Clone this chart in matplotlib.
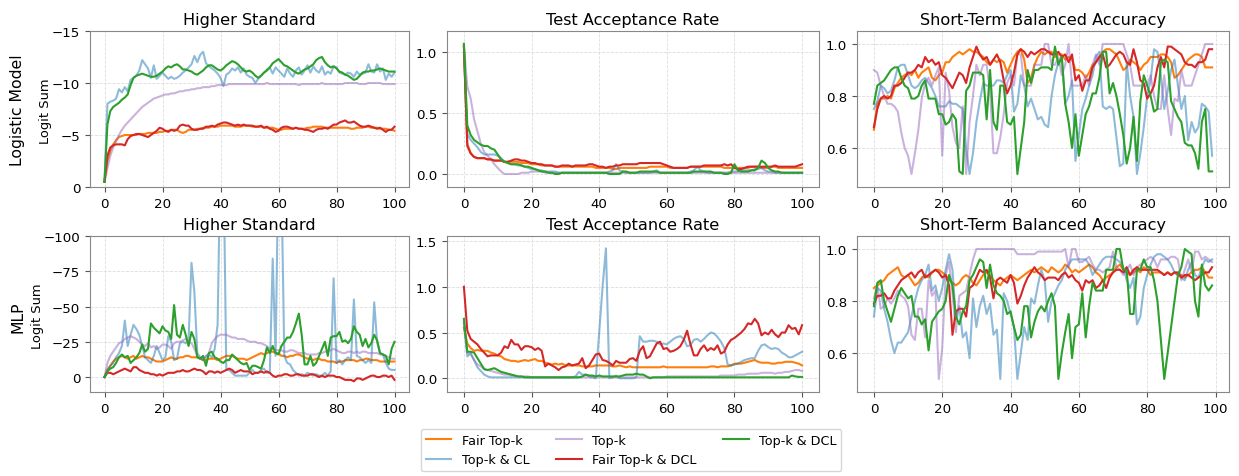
import matplotlib
matplotlib.use("Agg")
import matplotlib.pyplot as plt
import numpy as np

labels = ["Fair Top-k", "Top-k & CL", "Top-k", "Fair Top-k & DCL", "Top-k & DCL"]
colors = ["#ff7f0e", "#1f77b4", "#9467bd", "#d62728", "#2ca02c"]
alphas = [1.0, 0.5, 0.5, 1.0, 1.0]
titles = ["Higher Standard", "Test Acceptance Rate", "Short-Term Balanced Accuracy"]
row_labels = ["Logistic Model", "MLP"]

# ---------------- Logistic model: Higher Standard (logit sum) ----------------
lr_hs_fair = [-0.5,-2.5,-3.5,-4.1,-4.5,-4.8,-4.9,-5.0,-5.0,-5.0, -5.0,-5.0,-5.1,-5.1,-5.1,-5.2,-5.2,-5.2,-5.2,-5.3,
              -5.3,-5.4,-5.4,-5.5,-5.5,-5.5,-5.3,-5.2,-5.3,-5.5, -5.5,-5.5,-5.6,-5.6,-5.7,-5.7,-5.7,-5.8,-5.8,-5.8,
              -5.9,-5.9,-5.9,-5.9,-5.9,-5.8,-5.8,-5.8,-5.9,-5.9, -5.9,-5.8,-5.8,-5.8,-5.8,-5.7,-5.7,-5.7,-5.7,-5.6,
              -5.5,-5.5,-5.6,-5.6,-5.6,-5.6,-5.7,-5.6,-5.6,-5.6, -5.7,-5.7,-5.8,-5.8,-5.8,-5.8,-5.7,-5.7,-5.7,-5.7,
              -5.7,-5.7,-5.7,-5.7,-5.7,-5.6,-5.6,-5.7,-5.7,-5.7, -5.8,-5.8,-5.7,-5.7,-5.7,-5.6,-5.6,-5.6,-5.5,-5.5, -5.4]
lr_hs_cl = [-0.5,-8.0,-8.2,-8.3,-8.5,-9.4,-9.1,-9.6,-9.2,-10.3, -10.5,-10.7,-11.2,-12.2,-11.8,-11.4,-10.5,-11.7,-10.4,-10.7,
            -11.0,-10.7,-10.4,-10.6,-10.4,-10.5,-10.7,-11.0,-11.2,-11.5, -11.8,-12.6,-12.0,-12.7,-13.0,-11.9,-11.6,-11.4,-11.2,-10.9,
            -10.5,-9.7,-10.8,-11.0,-11.4,-11.2,-11.5,-11.0,-11.4,-10.8, -10.6,-10.5,-10.0,-10.4,-10.7,-11.0,-11.3,-11.5,-10.9,-11.5,
            -11.2,-10.9,-10.6,-11.4,-10.9,-10.6,-11.2,-11.5,-10.8,-11.2, -11.7,-11.0,-11.6,-11.2,-11.0,-11.6,-10.8,-11.1,-10.9,-11.6,
            -11.5,-11.0,-10.9,-10.8,-11.0,-10.9,-10.6,-11.1,-10.8,-10.9, -11.0,-11.8,-11.1,-11.0,-11.8,-11.1,-11.4,-10.3,-10.9,-10.6, -11.0]
lr_hs_topk = [-0.5,-1.8,-3.0,-3.8,-4.4,-5.0,-5.5,-5.9,-6.2,-6.5, -6.8,-7.1,-7.4,-7.7,-7.9,-8.1,-8.3,-8.5,-8.6,-8.7,
              -8.8,-8.9,-8.9,-9.0,-9.0,-9.1,-9.2,-9.2,-9.3,-9.3, -9.4,-9.4,-9.5,-9.5,-9.6,-9.6,-9.6,-9.7,-9.7,-9.8,
              -9.8,-9.8,-9.8,-9.9,-9.9,-9.9,-9.9,-9.9,-9.9,-9.9, -9.9,-9.9,-9.9,-9.9,-9.9,-9.9,-10.0,-9.9,-9.9,-9.9,
              -9.9,-9.9,-9.9,-9.9,-9.9,-9.9,-9.9,-9.8,-9.9,-9.9, -9.9,-9.9,-9.9,-9.9,-9.9,-10.0,-9.9,-9.9,-9.9,-9.9,
              -9.9,-9.9,-9.9,-10.0,-10.0,-10.0,-10.0,-10.0,-9.9,-9.9, -9.9,-10.0,-10.0,-10.0,-10.0,-10.0,-9.9,-9.9,-9.9,-9.9, -9.9]
lr_hs_fairdcl = [-0.5,-3.0,-3.8,-4.0,-4.1,-4.1,-4.1,-4.0,-4.6,-4.9, -5.0,-5.1,-5.1,-5.0,-4.9,-4.8,-5.0,-5.2,-5.4,-5.7,
                 -5.6,-5.4,-5.3,-5.5,-5.4,-5.5,-5.9,-6.0,-5.9,-5.9, -5.6,-5.5,-5.5,-5.6,-5.6,-5.8,-5.8,-5.9,-5.8,-6.0,
                 -6.1,-6.2,-6.2,-6.1,-6.0,-5.9,-6.0,-5.9,-6.0,-5.9, -5.9,-5.9,-5.8,-5.8,-5.9,-5.7,-5.8,-5.6,-5.5,-5.3,
                 -5.4,-5.7,-5.8,-5.8,-5.7,-5.6,-5.7,-5.6,-5.6,-5.5, -5.5,-5.4,-5.3,-5.5,-5.6,-5.6,-5.7,-5.6,-5.8,-6.0,
                 -6.0,-6.2,-6.3,-6.4,-6.2,-6.2,-6.3,-6.1,-5.9,-5.8, -5.8,-5.9,-5.8,-5.7,-5.6,-5.7,-5.5,-5.3,-5.5,-5.5, -5.8]
lr_hs_dcl = [-0.5,-6.0,-7.3,-7.7,-7.9,-8.1,-8.4,-8.6,-8.9,-9.8, -10.5,-10.7,-10.8,-10.9,-10.8,-10.7,-10.6,-10.6,-10.7,-10.9,
             -11.1,-11.4,-11.6,-11.5,-11.7,-11.8,-11.6,-11.3,-11.3,-11.2, -11.1,-10.9,-10.8,-11.0,-11.2,-11.5,-11.7,-11.7,-11.5,-11.3,
             -11.2,-11.4,-11.7,-11.9,-12.1,-12.0,-11.8,-11.5,-11.2,-11.1, -11.2,-11.0,-10.7,-10.5,-10.7,-11.0,-11.2,-11.5,-11.9,-12.1,
             -12.3,-12.0,-11.7,-11.6,-11.4,-11.2,-11.0,-10.9,-11.1,-11.3, -11.4,-11.6,-11.8,-12.2,-12.4,-12.5,-12.0,-11.7,-11.5,-11.6,
             -11.4,-11.1,-11.0,-10.8,-10.7,-10.5,-10.3,-10.4,-10.7,-11.0, -11.1,-11.1,-11.2,-11.2,-11.3,-11.4,-11.3,-11.2,-11.1,-11.1, -11.1]

# ---------------- Logistic model: Test Acceptance Rate ----------------
lr_ar_fair = [1.05,0.25,0.17,0.14,0.13,0.13,0.13,0.12,0.12,0.11, 0.11,0.11,0.10,0.10,0.10,0.10,0.10,0.09,0.09,0.09,
              0.08,0.08,0.08,0.07,0.07,0.07,0.07,0.06,0.06,0.06, 0.06,0.06,0.06,0.06,0.06,0.06,0.06,0.06,0.06,0.05,
              0.05,0.05,0.05,0.05,0.04,0.04,0.05,0.05,0.05,0.05, 0.05,0.05,0.05,0.05,0.05,0.06,0.06,0.06,0.06,0.06,
              0.06,0.05,0.05,0.05,0.05,0.05,0.05,0.06,0.06,0.06, 0.06,0.06,0.06,0.06,0.06,0.06,0.06,0.05,0.05,0.05,
              0.05,0.05,0.05,0.05,0.05,0.06,0.06,0.06,0.05,0.05, 0.05,0.06,0.06,0.05,0.05,0.05,0.05,0.05,0.05,0.05, 0.05]
lr_ar_cl = [1.00,0.33,0.28,0.25,0.22,0.18,0.16,0.16,0.16,0.16, 0.15,0.13,0.10,0.09,0.08,0.08,0.07,0.07,0.06,0.05,
            0.04,0.04,0.03,0.03,0.02,0.02,0.02,0.02,0.01,0.01, 0.01,0.01,0.01,0.01,0.01,0.01,0.01,0.01,0.01,0.01,
            0.01,0.01,0.01,0.02,0.03,0.08,0.03,0.02,0.01,0.01, 0.01,0.01,0.01,0.01,0.01,0.01,0.02,0.03,0.01,0.01,
            0.01,0.01,0.01,0.01,0.01,0.01,0.01,0.02,0.03,0.06, 0.03,0.02,0.01,0.01,0.01,0.01,0.01,0.01,0.01,0.02,
            0.02,0.02,0.03,0.03,0.03,0.03,0.04,0.04,0.05,0.03, 0.02,0.02,0.01,0.01,0.01,0.01,0.01,0.01,0.01,0.01, 0.01]
lr_ar_topk = [1.05,0.72,0.62,0.45,0.35,0.25,0.18,0.15,0.12,0.08, 0.05,0.02,0.00,0.00,0.00,0.00,0.00,0.01,0.01,0.01,
              0.02,0.02,0.02,0.02,0.01,0.01,0.01,0.01,0.01,0.01, 0.01,0.01,0.01,0.01,0.01,0.01,0.01,0.01,0.01,0.01,
              0.01,0.01,0.01,0.01,0.01,0.01,0.01,0.01,0.01,0.01, 0.01,0.01,0.01,0.01,0.01,0.01,0.01,0.01,0.01,0.01,
              0.01,0.01,0.01,0.01,0.01,0.01,0.01,0.01,0.01,0.01, 0.01,0.01,0.01,0.01,0.01,0.01,0.01,0.01,0.01,0.01,
              0.01,0.01,0.01,0.01,0.01,0.01,0.01,0.01,0.01,0.01, 0.01,0.01,0.01,0.01,0.01,0.01,0.01,0.01,0.01,0.01, 0.01]
lr_ar_fairdcl = [1.05,0.23,0.17,0.14,0.13,0.13,0.13,0.12,0.12,0.11, 0.11,0.11,0.10,0.10,0.11,0.12,0.12,0.11,0.11,0.10,
                 0.09,0.09,0.08,0.08,0.07,0.07,0.07,0.06,0.06,0.07, 0.07,0.07,0.06,0.07,0.07,0.07,0.07,0.08,0.08,0.07,
                 0.06,0.06,0.05,0.06,0.06,0.07,0.07,0.08,0.08,0.08, 0.08,0.08,0.09,0.09,0.09,0.09,0.09,0.09,0.09,0.08,
                 0.07,0.06,0.05,0.05,0.05,0.05,0.05,0.06,0.06,0.06, 0.06,0.07,0.07,0.07,0.07,0.07,0.07,0.08,0.07,0.08,
                 0.05,0.04,0.04,0.05,0.06,0.06,0.06,0.06,0.06,0.06, 0.06,0.06,0.07,0.06,0.06,0.06,0.06,0.06,0.06,0.07, 0.08]
lr_ar_dcl = [1.07,0.40,0.32,0.28,0.26,0.24,0.23,0.23,0.21,0.20, 0.16,0.12,0.10,0.09,0.08,0.08,0.08,0.07,0.06,0.06,
             0.05,0.04,0.03,0.02,0.02,0.01,0.01,0.00,0.00,0.01, 0.01,0.01,0.01,0.01,0.01,0.01,0.01,0.01,0.01,0.01,
             0.01,0.01,0.01,0.00,0.00,0.00,0.00,0.02,0.02,0.01, 0.01,0.01,0.02,0.02,0.02,0.02,0.02,0.02,0.01,0.01,
             0.01,0.01,0.01,0.01,0.01,0.01,0.01,0.01,0.02,0.02, 0.02,0.02,0.02,0.02,0.01,0.01,0.01,0.00,0.00,0.01,
             0.08,0.03,0.02,0.02,0.02,0.03,0.03,0.05,0.11,0.09, 0.05,0.03,0.02,0.02,0.01,0.01,0.01,0.01,0.01,0.01, 0.01]

# ---------------- Logistic model: Short-Term Balanced Accuracy ----------------
lr_ba_fair = [0.67,0.77,0.79,0.79,0.80,0.79,0.83,0.85,0.87,0.88, 0.89,0.88,0.90,0.87,0.89,0.90,0.91,0.87,0.86,0.88,
              0.89,0.93,0.93,0.95,0.96,0.97,0.96,0.97,0.98,0.97, 0.97,0.96,0.95,0.93,0.92,0.94,0.93,0.94,0.93,0.89,
              0.92,0.95,0.97,0.98,0.94,0.85,0.87,0.92,0.95,0.97, 0.96,0.97,0.97,0.95,0.96,0.96,0.94,0.95,0.94,0.90,
              0.90,0.89,0.87,0.89,0.92,0.93,0.95,0.97,0.98,0.98, 0.97,0.96,0.93,0.90,0.91,0.94,0.93,0.92,0.90,0.92,
              0.93,0.95,0.95,0.95,0.96,0.96,0.95,0.93,0.87,0.88, 0.90,0.92,0.94,0.95,0.96,0.96,0.95,0.91,0.91,0.91]
lr_ba_cl = [0.75,0.78,0.84,0.83,0.81,0.82,0.86,0.91,0.92,0.92, 0.88,0.84,0.83,0.84,0.86,0.87,0.85,0.83,0.80,0.76,
            0.76,0.76,0.78,0.77,0.77,0.76,0.75,0.60,0.50,0.58, 0.70,0.78,0.85,0.84,0.84,0.84,0.86,0.86,0.85,0.88,
            0.90,0.74,0.77,0.88,0.84,0.76,0.79,0.75,0.71,0.72, 0.69,0.68,0.80,0.88,0.93,0.95,0.77,0.80,0.86,0.55,
            0.65,0.75,0.79,0.84,0.88,0.95,0.97,0.76,0.75,0.76, 0.75,0.64,0.53,0.54,0.93,0.80,0.72,0.50,0.58,0.68,
            0.80,0.86,0.98,0.97,0.88,0.75,0.82,0.90,0.94,0.84, 0.75,0.80,0.63,0.70,0.66,0.68,0.77,0.76,0.74,0.57]
lr_ba_topk = [0.90,0.89,0.84,0.80,0.77,0.77,0.76,0.74,0.66,0.60, 0.57,0.50,0.58,0.67,0.79,0.85,0.87,0.84,0.88,0.91,
              0.57,0.89,0.82,0.68,0.62,0.60,0.76,0.50,0.70,0.80, 0.92,0.88,0.92,0.92,0.82,0.58,0.58,0.64,0.73,0.85,
              0.88,0.84,0.96,0.96,0.84,0.84,0.84,0.92,0.92,0.92, 1.00,1.00,0.92,0.92,0.95,0.88,0.92,1.00,0.84,0.84,
              0.84,0.84,0.88,0.84,0.92,0.96,0.92,1.00,1.00,1.00, 1.00,1.00,1.00,1.00,0.96,0.92,0.84,0.84,0.84,0.84,
              0.84,0.88,0.80,0.75,0.75,0.88,0.75,0.65,0.79,0.78, 0.90,0.84,0.84,0.84,0.88,0.92,0.96,1.00,1.00,1.00]
lr_ba_fairdcl = [0.68,0.75,0.79,0.80,0.79,0.80,0.84,0.84,0.85,0.87, 0.89,0.89,0.90,0.92,0.91,0.95,0.93,0.94,0.92,0.93,
                 0.88,0.87,0.85,0.83,0.86,0.89,0.88,0.85,0.91,0.95, 0.99,0.96,0.94,0.95,0.92,0.94,0.96,0.93,0.86,0.81,
                 0.84,0.89,0.96,0.98,0.97,0.95,0.97,0.96,0.97,0.98, 0.98,0.97,0.96,0.96,0.97,0.95,0.96,0.93,0.96,0.86,
                 0.88,0.82,0.86,0.86,0.91,0.93,0.95,0.96,0.91,0.92, 0.94,0.96,0.97,0.96,0.93,0.92,0.98,0.93,0.86,0.85,
                 0.79,0.81,0.84,0.91,0.95,0.91,0.99,0.99,0.98,0.97, 0.96,0.93,0.92,0.92,0.91,0.93,0.93,0.94,0.98,0.98]
lr_ba_dcl = [0.77,0.84,0.85,0.86,0.88,0.90,0.91,0.91,0.87,0.84, 0.83,0.79,0.79,0.80,0.84,0.86,0.79,0.79,0.79,0.73,
             0.73,0.69,0.70,0.73,0.71,0.51,0.50,0.82,0.84,0.89, 0.89,0.89,0.88,0.71,0.90,0.70,0.67,0.84,0.84,0.70,
             0.69,0.72,0.50,0.60,0.70,0.90,0.85,0.90,0.90,0.91, 0.91,0.91,0.90,0.99,0.92,0.95,0.77,0.70,0.60,0.73,
             0.57,0.65,0.73,0.76,0.81,0.81,0.87,0.97,0.97,0.81, 0.85,0.80,0.73,0.65,0.54,0.60,0.72,0.55,0.78,0.88,
             0.84,0.80,0.74,0.75,0.93,0.94,0.93,0.78,0.75,0.72, 0.70,0.62,0.61,0.61,0.58,0.52,0.70,0.75,0.51,0.51]

# ---------------- MLP: Higher Standard (logit sum) ----------------
mlp_hs_fair = [0,-5,-8,-11,-13,-14,-15,-14,-13,-14, -15,-13,-14,-15,-14,-14,-13,-12,-11,-11,
               -11,-12,-13,-14,-13,-13,-14,-14,-15,-15, -14,-14,-14,-13,-12,-12,-13,-13,-13,-12,
               -13,-14,-15,-15,-15,-14,-13,-13,-13,-12, -13,-14,-15,-16,-17,-16,-17,-18,-18,-17,
               -17,-15,-15,-14,-15,-15,-16,-16,-15,-14, -13,-13,-12,-13,-13,-12,-12,-11,-11,-11,
               -10,-11,-11,-12,-12,-12,-12,-11,-12,-12, -13,-13,-12,-12,-12,-11,-11,-11,-11,-11, -11]
mlp_hs_cl = [0,-5,-8,-10,-14,-17,-22,-40,-22,-30, -37,-34,-30,-22,-14,-12,-10,-15,-22,-17,
             -12,-14,-29,-25,-12,-13,-24,-25,-24,-27, -81,-60,-17,-14,-12,-15,-16,-14,-20,-37,
             -160,-160,-5,-5,-3,-1,-1,-1,-1,-1, -3,-5,-3,-3,-5,-6,-3,-3,-84,-15,
             -160,-140,-15,-10,-9,-5,-3,-1,-2,-1, -3,-2,-1,-2,-1,-1,-3,-1,-4,-70,
             -10,-12,-9,-12,-14,-12,-55,-15,-14,-12, -10,-12,-10,-53,-25,-17,-16,-10,-6,-5, -5]
mlp_hs_topk = [0,-10,-15,-18,-21,-24,-25,-27,-28,-29, -28,-27,-25,-23,-22,-24,-21,-22,-20,-21,
               -23,-23,-22,-20,-24,-25,-25,-26,-27,-25, -24,-20,-15,-13,-13,-14,-17,-24,-27,-29,
               -30,-30,-30,-29,-28,-28,-27,-27,-27,-26, -25,-25,-25,-24,-24,-23,-22,-20,-20,-19,
               -19,-19,-18,-18,-19,-19,-18,-17,-17,-17, -16,-16,-16,-16,-17,-17,-18,-18,-19,-20,
               -19,-18,-17,-17,-18,-18,-17,-18,-17,-18, -18,-17,-17,-17,-17,-16,-16,-15,-14,-13, -13]
mlp_hs_fairdcl = [0,-3,-3,-2,-3,-4,-5,-6,-5,-4, -7,-7,-5,-4,-3,-3,-2,-2,-1,-2,
                  -1,-2,-3,-3,-3,-4,-4,-5,-4,-4, -5,-6,-5,-5,-4,-2,-4,-4,-3,-4,
                  -3,-4,-5,-6,-5,-3,-4,-5,-4,-4, -4,-2,-3,-3,-4,-3,-4,-3,-1,0,
                  -1,-1,-2,-2,-1,-1,-2,-2,-1,-1, -1,-2,-2,-1,0,-1,0,-1,-1,-1,
                  0,0,1,2,2,2,3,1,1,2, 1,0,-1,-1,0,0,-1,-1,0,-1, 2]
mlp_hs_dcl = [0,-4,-6,-7,-10,-14,-16,-14,-15,-10, -12,-14,-17,-23,-18,-20,-38,-35,-33,-31,
              -36,-33,-32,-27,-51,-30,-28,-37,-30,-22, -32,-27,-14,-13,-15,-8,-17,-18,-14,-13,
              -11,-10,-12,-12,-16,-14,-12,-10,-9,-10, -5,-8,-8,-7,-6,-12,-21,-17,-22,-17,
              -16,-22,-25,-28,-28,-32,-38,-45,-30,-9, -9,-15,-8,-10,-15,-20,-25,-15,-28,-29,
              -29,-32,-25,-26,-24,-27,-36,-32,-30,-22, -27,-21,-24,-30,-26,-17,-16,-15,-9,-20, -25]

# ---------------- MLP: Test Acceptance Rate ----------------
mlp_ar_fair = [0.55,0.38,0.33,0.30,0.31,0.30,0.30,0.30,0.28,0.27, 0.25,0.24,0.21,0.20,0.19,0.19,0.18,0.19,0.20,0.19,
               0.20,0.21,0.19,0.19,0.17,0.16,0.15,0.16,0.15,0.16, 0.14,0.14,0.14,0.14,0.14,0.13,0.13,0.13,0.13,0.14,
               0.14,0.14,0.14,0.14,0.13,0.13,0.14,0.13,0.12,0.13, 0.12,0.12,0.12,0.12,0.12,0.12,0.12,0.12,0.12,0.13,
               0.12,0.12,0.12,0.12,0.12,0.12,0.12,0.12,0.12,0.12, 0.12,0.12,0.12,0.13,0.13,0.12,0.13,0.13,0.13,0.14,
               0.16,0.16,0.16,0.17,0.18,0.19,0.20,0.18,0.17,0.17, 0.17,0.16,0.16,0.17,0.17,0.18,0.18,0.18,0.17,0.16, 0.14]
mlp_ar_cl = [0.62,0.24,0.27,0.20,0.12,0.08,0.04,0.02,0.01,0.01, 0.01,0.01,0.01,0.01,0.01,0.01,0.01,0.01,0.01,0.01,
             0.01,0.01,0.01,0.01,0.01,0.01,0.01,0.01,0.01,0.01, 0.01,0.01,0.01,0.02,0.07,0.04,0.04,0.02,0.01,0.00,
             0.50,1.00,1.42,0.00,0.01,0.03,0.00,0.00,0.00,0.00, 0.00,0.01,0.46,0.40,0.40,0.41,0.41,0.40,0.37,0.38,
             0.37,0.40,0.43,0.45,0.46,0.43,0.35,0.36,0.42,0.43, 0.40,0.43,0.47,0.50,0.49,0.45,0.40,0.33,0.15,0.14,
             0.15,0.16,0.18,0.20,0.21,0.22,0.22,0.30,0.36,0.37, 0.34,0.32,0.33,0.32,0.28,0.26,0.23,0.23,0.25,0.27, 0.29]
mlp_ar_topk = [0.60,0.28,0.27,0.20,0.15,0.13,0.10,0.09,0.08,0.07, 0.06,0.05,0.04,0.04,0.03,0.03,0.02,0.02,0.02,0.02,
               0.01,0.01,0.01,0.01,0.01,0.01,0.01,0.01,0.01,0.01, 0.01,0.01,0.01,0.01,0.01,0.01,0.01,0.01,0.01,0.01,
               0.01,0.01,0.01,0.01,0.01,0.01,0.01,0.01,0.01,0.01, 0.01,0.01,0.01,0.01,0.01,0.01,0.01,0.01,0.01,0.01,
               0.02,0.02,0.02,0.02,0.02,0.02,0.02,0.02,0.02,0.02, 0.02,0.02,0.02,0.02,0.02,0.02,0.03,0.03,0.03,0.03,
               0.03,0.04,0.04,0.04,0.05,0.05,0.05,0.05,0.06,0.06, 0.06,0.06,0.05,0.06,0.06,0.07,0.07,0.08,0.09,0.09, 0.08]
mlp_ar_fairdcl = [1.00,0.52,0.43,0.40,0.37,0.32,0.28,0.24,0.25,0.25, 0.25,0.28,0.35,0.33,0.42,0.37,0.37,0.31,0.35,0.35,
                  0.34,0.31,0.33,0.30,0.13,0.16,0.14,0.12,0.09,0.12, 0.13,0.16,0.14,0.15,0.16,0.22,0.11,0.14,0.20,0.26,
                  0.27,0.20,0.19,0.17,0.14,0.19,0.17,0.17,0.17,0.21, 0.22,0.19,0.30,0.35,0.22,0.24,0.31,0.38,0.40,0.32,
                  0.33,0.29,0.30,0.32,0.35,0.42,0.52,0.37,0.25,0.25, 0.32,0.36,0.30,0.33,0.31,0.36,0.27,0.29,0.37,0.42,
                  0.44,0.47,0.50,0.54,0.60,0.59,0.65,0.60,0.47,0.50, 0.48,0.53,0.48,0.45,0.50,0.50,0.58,0.54,0.55,0.48, 0.58]
mlp_ar_dcl = [0.65,0.29,0.29,0.28,0.22,0.16,0.10,0.09,0.10,0.11, 0.09,0.07,0.06,0.05,0.04,0.03,0.02,0.02,0.01,0.01,
              0.01,0.01,0.01,0.01,0.01,0.01,0.01,0.01,0.01,0.01, 0.01,0.01,0.01,0.01,0.01,0.02,0.04,0.03,0.03,0.02,
              0.03,0.02,0.02,0.02,0.02,0.02,0.02,0.03,0.04,0.04, 0.04,0.05,0.04,0.04,0.02,0.00,0.01,0.01,0.01,0.01,
              0.01,0.01,0.01,0.01,0.01,0.01,0.01,0.01,0.01,0.01, 0.01,0.01,0.01,0.01,0.01,0.01,0.01,0.01,0.01,0.01,
              0.01,0.01,0.01,0.01,0.01,0.01,0.01,0.01,0.01,0.01, 0.01,0.01,0.01,0.01,0.01,0.01,0.01,0.03,0.02,0.015, 0.015]

# ---------------- MLP: Short-Term Balanced Accuracy ----------------
mlp_ba_fair = [0.85,0.86,0.87,0.88,0.90,0.91,0.92,0.93,0.90,0.89, 0.90,0.88,0.86,0.87,0.89,0.90,0.89,0.91,0.92,0.92,
               0.91,0.90,0.88,0.87,0.86,0.87,0.89,0.90,0.89,0.87, 0.86,0.88,0.90,0.91,0.90,0.88,0.87,0.86,0.88,0.89,
               0.90,0.89,0.88,0.89,0.90,0.91,0.92,0.91,0.92,0.93, 0.92,0.91,0.93,0.92,0.91,0.92,0.94,0.93,0.91,0.92,
               0.91,0.92,0.93,0.94,0.93,0.91,0.90,0.88,0.89,0.90, 0.91,0.93,0.94,0.92,0.91,0.90,0.91,0.92,0.91,0.93,
               0.92,0.90,0.91,0.91,0.91,0.90,0.91,0.90,0.91,0.90, 0.90,0.89,0.90,0.91,0.92,0.92,0.93,0.91,0.89,0.89]
mlp_ba_cl = [0.74,0.85,0.84,0.77,0.72,0.65,0.60,0.64,0.64,0.66, 0.68,0.74,0.80,0.85,0.88,0.90,0.94,0.84,0.86,0.80,
             0.85,0.92,0.98,0.92,0.73,0.78,0.66,0.68,0.58,0.81, 0.70,0.78,0.82,0.75,0.79,0.67,0.69,0.50,0.83,0.80,
             0.75,0.70,0.50,0.60,0.70,0.65,0.81,0.79,0.86,0.92, 0.88,0.72,0.80,0.83,0.86,0.88,0.92,0.94,0.96,0.96,
             0.96,0.96,0.96,0.94,0.90,0.92,0.94,0.96,0.97,0.97, 0.97,0.96,0.95,0.93,0.88,0.85,0.89,0.71,0.74,0.85,
             0.90,0.94,0.97,0.98,0.98,0.97,0.96,0.94,0.91,0.90, 0.89,0.88,0.92,0.95,0.90,0.89,0.93,0.96,0.95,0.96]
mlp_ba_topk = [0.81,0.86,0.77,0.78,0.81,0.79,0.81,0.84,0.82,0.81, 0.78,0.67,0.65,0.77,0.77,0.66,0.88,0.82,0.84,0.50,
               0.62,0.90,0.95,0.83,0.68,0.82,0.83,0.84,0.90,0.96, 1.00,1.00,1.00,1.00,1.00,1.00,1.00,1.00,1.00,1.00,
               1.00,1.00,0.98,0.98,0.98,0.98,0.98,0.98,0.99,0.99, 0.99,0.99,0.99,0.99,0.99,0.99,1.00,0.93,1.00,1.00,
               0.95,0.95,0.96,0.97,0.94,0.92,0.92,0.91,0.92,0.93, 0.99,0.93,0.92,0.90,0.92,0.94,0.90,0.93,0.94,0.95,
               0.96,0.97,0.96,0.93,0.96,0.96,0.96,0.97,0.97,0.96, 0.88,0.92,0.96,0.91,0.99,0.99,0.96,0.97,0.96,0.95]
mlp_ba_fairdcl = [0.79,0.82,0.82,0.83,0.81,0.81,0.84,0.86,0.88,0.89, 0.90,0.91,0.89,0.91,0.92,0.89,0.90,0.91,0.92,0.91,
                  0.89,0.90,0.86,0.67,0.76,0.77,0.77,0.74,0.85,0.86, 0.89,0.92,0.91,0.92,0.89,0.81,0.88,0.89,0.88,0.87,
                  0.90,0.87,0.79,0.82,0.86,0.89,0.91,0.93,0.91,0.90, 0.88,0.89,0.89,0.89,0.88,0.90,0.91,0.89,0.90,0.88,
                  0.87,0.84,0.88,0.87,0.88,0.85,0.86,0.88,0.85,0.89, 0.91,0.92,0.92,0.91,0.93,0.90,0.92,0.93,0.92,0.92,
                  0.92,0.92,0.92,0.92,0.91,0.90,0.91,0.90,0.91,0.91, 0.89,0.90,0.90,0.89,0.88,0.89,0.90,0.91,0.91,0.93]
mlp_ba_dcl = [0.78,0.87,0.88,0.80,0.76,0.72,0.77,0.82,0.85,0.83, 0.81,0.82,0.74,0.74,0.71,0.73,0.61,0.72,0.74,0.76,
              0.77,0.80,0.90,0.86,0.74,0.71,0.76,0.78,0.88,0.90, 0.93,0.96,0.95,0.85,0.94,0.86,0.83,0.82,0.80,0.75,
              0.76,0.70,0.65,0.67,0.78,0.78,0.66,0.72,0.76,0.78, 0.76,0.80,0.83,0.78,0.50,0.60,0.68,0.75,0.58,0.70,
              0.71,0.83,0.66,0.78,0.87,0.84,0.84,0.84,0.92,0.92, 0.92,1.00,1.00,0.92,0.92,0.75,0.75,0.92,0.92,0.96,
              0.93,0.93,0.88,0.80,0.65,0.50,0.60,0.70,0.80,0.90, 0.93,1.00,0.99,0.98,0.80,0.74,0.94,0.86,0.84,0.86]

panels = [
    [[lr_hs_fair, lr_hs_cl, lr_hs_topk, lr_hs_fairdcl, lr_hs_dcl],
     [lr_ar_fair, lr_ar_cl, lr_ar_topk, lr_ar_fairdcl, lr_ar_dcl],
     [lr_ba_fair, lr_ba_cl, lr_ba_topk, lr_ba_fairdcl, lr_ba_dcl]],
    [[mlp_hs_fair, mlp_hs_cl, mlp_hs_topk, mlp_hs_fairdcl, mlp_hs_dcl],
     [mlp_ar_fair, mlp_ar_cl, mlp_ar_topk, mlp_ar_fairdcl, mlp_ar_dcl],
     [mlp_ba_fair, mlp_ba_cl, mlp_ba_topk, mlp_ba_fairdcl, mlp_ba_dcl]],
]

ylims = [[(0, -15), (-0.107, 1.175), (0.45, 1.05)],
         [(10.6, -100), (-0.15, 1.555), (0.45, 1.05)]]
yticks = [[[0, -5, -10, -15], [0.0, 0.5, 1.0], [0.6, 0.8, 1.0]],
          [[0, -25, -50, -75, -100], [0.0, 0.5, 1.0, 1.5], [0.6, 0.8, 1.0]]]

W, H = 1239, 477
fig = plt.figure(figsize=(W / 100, H / 100), dpi=100)

def box(x0, y0, x1, y1):
    return [x0 / W, 1 - y1 / H, (x1 - x0) / W, (y1 - y0) / H]

col_x = [(90, 409), (447, 819), (857, 1229)]
row_y = [(32, 188), (237, 393)]

handles = None
for r in range(2):
    for c in range(3):
        ax = fig.add_axes(box(col_x[c][0], row_y[r][0], col_x[c][1], row_y[r][1]))
        hs = []
        for k, series in enumerate(panels[r][c]):
            x = np.arange(len(series))
            h, = ax.plot(x, series, color=colors[k], alpha=alphas[k], lw=1.5, label=labels[k])
            hs.append(h)
        handles = hs
        ax.set_ylim(*ylims[r][c])
        ax.set_yticks(yticks[r][c])
        ax.set_xticks([0, 20, 40, 60, 80, 100])
        ax.set_title(titles[c], fontsize=11.6, pad=5)
        ax.grid(True, linestyle="--", color="#dddddd", linewidth=0.6)
        ax.set_axisbelow(True)
        for sp in ax.spines.values():
            sp.set_color("#888888")
        ax.tick_params(labelsize=9.6, color="#555555", length=3.5)

# row labels
fig.text(17.5 / W, 1 - 110 / H, row_labels[0], rotation=90, ha="center", va="center", fontsize=11.3)
fig.text(46 / W, 1 - 111 / H, "Logit Sum", rotation=90, ha="center", va="center", fontsize=9.4)
fig.text(18 / W, 1 - 317 / H, row_labels[1], rotation=90, ha="center", va="center", fontsize=11.3)
fig.text(38 / W, 1 - 316 / H, "Logit Sum", rotation=90, ha="center", va="center", fontsize=9.4)

fig.legend(handles=handles, labels=labels, ncol=3, loc="center",
           bbox_to_anchor=(631 / W, 1 - 451 / H), fontsize=9.2, frameon=True,
           columnspacing=2.1, handlelength=2.0)

fig.savefig("out.png", dpi=100)
